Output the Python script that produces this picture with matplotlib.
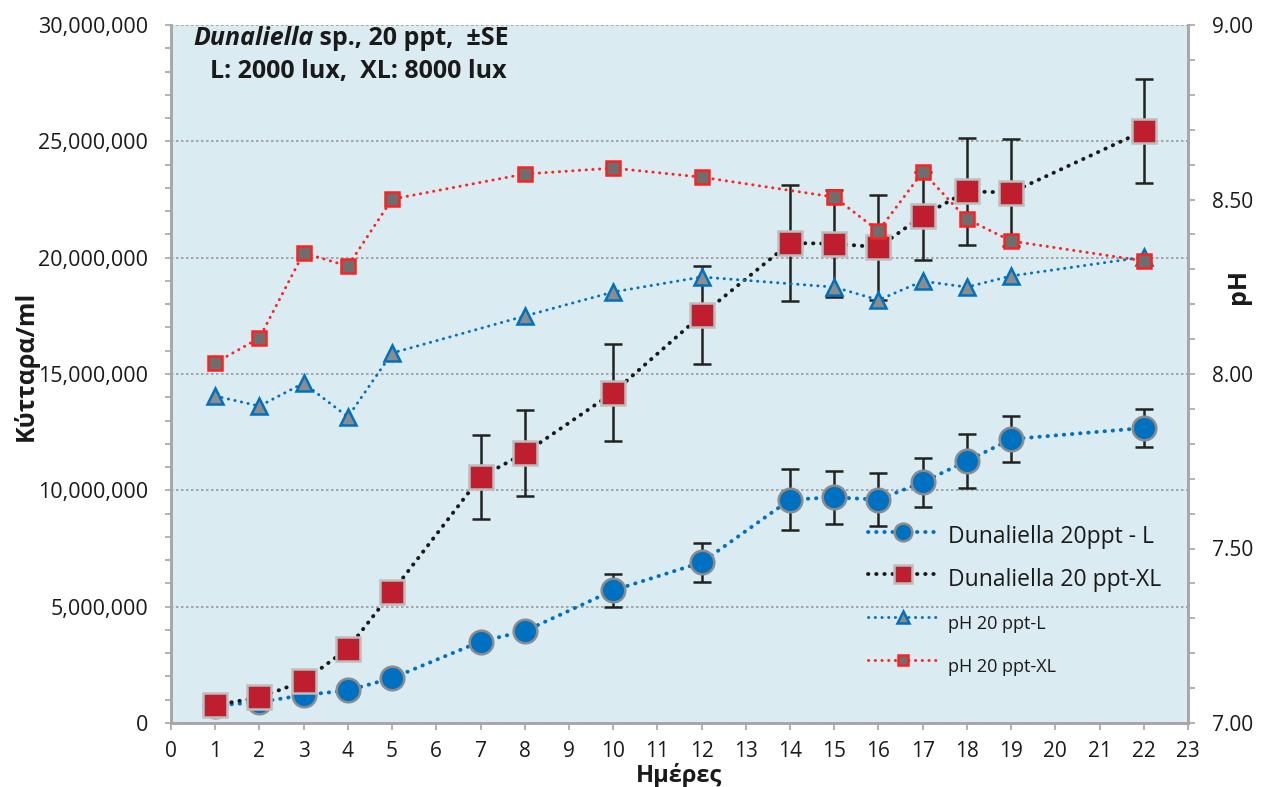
import matplotlib
matplotlib.use("Agg")
import matplotlib.pyplot as plt

plt.rcParams['font.family'] = ['Open Sans', 'DejaVu Sans']

# ---- data ----
days_cells = [1, 2, 3, 4, 5, 7, 8, 10, 12, 14, 15, 16, 17, 18, 19, 22]
cells_L = [0.75e6, 0.9e6, 1.2e6, 1.4e6, 1.93e6, 3.5e6, 3.95e6, 5.7e6, 6.9e6,
           9.6e6, 9.7e6, 9.6e6, 10.35e6, 11.26e6, 12.2e6, 12.68e6]
err_L = [0, 0, 0, 0, 0, 0, 0, 0.7e6, 0.85e6,
         1.3e6, 1.15e6, 1.15e6, 1.05e6, 1.15e6, 1.0e6, 0.8e6]
cells_XL = [0.77e6, 1.1e6, 1.8e6, 3.2e6, 5.63e6, 10.57e6, 11.6e6, 14.2e6, 17.54e6,
            20.63e6, 20.6e6, 20.45e6, 21.8e6, 22.85e6, 22.8e6, 25.45e6]
err_XL = [0, 0, 0, 0, 0.35e6, 1.8e6, 1.85e6, 2.1e6, 2.1e6,
          2.5e6, 2.3e6, 2.25e6, 1.9e6, 2.3e6, 2.3e6, 2.25e6]

days_ph = [1, 2, 3, 4, 5, 8, 10, 12, 15, 16, 17, 18, 19, 22]
ph_L = [7.937, 7.908, 7.974, 7.877, 8.06, 8.166, 8.235, 8.278,
        8.249, 8.212, 8.266, 8.249, 8.281, 8.335]
ph_XL = [8.032, 8.103, 8.347, 8.309, 8.501, 8.573, 8.590, 8.564,
         8.507, 8.410, 8.579, 8.444, 8.381, 8.324]

labels = ["Dunaliella 20ppt - L", "Dunaliella 20 ppt-XL", "pH 20 ppt-L", "pH 20 ppt-XL"]
x_ticks = list(range(0, 24))
y_ticks = [0, 5e6, 10e6, 15e6, 20e6, 25e6, 30e6]
ph_ticks = [7.0, 7.5, 8.0, 8.5, 9.0]

# ---- figure ----
fig = plt.figure(figsize=(12.71, 7.87), dpi=100)
ax = fig.add_axes([171/1271, 1-723/787, (1188-171)/1271, (723-25)/787])
ax.set_facecolor('#DAEBF1')
ax2 = ax.twinx()

blue = '#0070C0'
red = '#BE1E2D'
grey_edge = '#8C8C8C'
txt = '#1a1a1a'

# error bars (behind markers)
ax.errorbar(days_cells, cells_L, yerr=err_L, fmt='none', ecolor='#222222',
            elinewidth=1.8, capsize=6.5, capthick=1.8, zorder=2)
ax.errorbar(days_cells, cells_XL, yerr=err_XL, fmt='none', ecolor='#222222',
            elinewidth=1.8, capsize=6.5, capthick=1.8, zorder=2)

lL, = ax.plot(days_cells, cells_L, linestyle=(0, (0.1, 2.0)), color=blue, lw=2.8,
              dash_capstyle='round', marker='o', ms=17, mfc=blue, mec=grey_edge,
              mew=1.8, zorder=3, label=labels[0])
lXL, = ax.plot(days_cells, cells_XL, linestyle=(0, (0.1, 2.0)), color='#1a1a1a', lw=2.8,
               dash_capstyle='round', marker='s', ms=17.5, mfc=red, mec='#BDBDBD',
               mew=1.8, zorder=4, label=labels[1])

pL, = ax2.plot(days_ph, ph_L, linestyle=(0, (0.1, 2.2)), color=blue, lw=2.1,
               dash_capstyle='round', marker='^', ms=11, mfc='#8C8C8C', mec=blue,
               mew=1.8, zorder=5, label=labels[2])
pXL, = ax2.plot(days_ph, ph_XL, linestyle=(0, (0.1, 2.2)), color='#FF2020', lw=2.1,
                dash_capstyle='round', marker='s', ms=10, mfc='#6E6E6E', mec='#FF2020',
                mew=1.8, zorder=5, label=labels[3])

# axes limits and ticks
ax.set_xlim(0, 23)
ax.set_ylim(0, 30e6)
ax2.set_ylim(7.0, 9.0)
ax.set_xticks(x_ticks)
ax.set_xticklabels([str(v) for v in x_ticks],
                   family=['Liberation Sans Narrow', 'Open Sans'], fontsize=15)
ax.set_yticks(y_ticks)
ax.set_yticks([i * 1e6 for i in range(31)], minor=True)
ax.set_yticklabels([f"{int(v):,}" for v in y_ticks])
ax2.set_yticks(ph_ticks)
ax2.set_yticks([7.0 + 0.1 * i for i in range(21)], minor=True)
ax2.set_yticklabels([f"{v:.2f}" for v in ph_ticks])

ax.grid(axis='y', which='major', linestyle=(0, (1.5, 1.5)), color='#9A9A9A', lw=1.2)
ax.set_axisbelow(True)

spine_c = '#A6A6A6'
for a in (ax, ax2):
    a.spines['top'].set_visible(False)
    for s in ('left', 'right', 'bottom'):
        a.spines[s].set_color(spine_c)
        a.spines[s].set_linewidth(1.8)

ax.tick_params(axis='x', direction='out', length=5, width=1.2, color=spine_c,
               pad=8, labelcolor=txt)
ax.tick_params(axis='y', which='both', direction='out', length=4.5, width=1.2,
               color=spine_c, labelsize=15.5, pad=12, labelcolor=txt)
ax2.tick_params(axis='y', which='major', direction='out', length=5, width=1.2,
                color=spine_c, labelsize=15, pad=12, labelcolor=txt)
ax2.tick_params(axis='y', which='minor', direction='out', length=5, width=1.2,
                color=spine_c)

ax.set_xlabel("Ημέρες", fontsize=17, fontweight='bold', color=txt)
ax.xaxis.set_label_coords(0.5, -0.057)
ax.set_ylabel("Κύτταρα/ml", fontsize=18, fontweight='bold', color=txt)
ax.yaxis.set_label_coords(-0.130, 0.511)
ax2.set_ylabel("pH", fontsize=18, fontweight='bold', color=txt)
ax2.yaxis.set_label_coords(1.037, 0.625)

# title inside plot
t1 = ax.text(0.0216, 0.981, "Dunaliella", transform=ax.transAxes, fontsize=18,
             fontweight='bold', style='italic', va='center', ha='left', color=txt)
ax.annotate(" sp., 20 ppt,  ±SE", xy=(1, 0), xycoords=t1, fontsize=18,
            fontweight='bold', va='bottom', ha='left', color=txt)
ax.text(0.184, 0.933, "L: 2000 lux,  XL: 8000 lux", transform=ax.transAxes,
        fontsize=18, fontweight='bold', va='center', ha='center', color=txt)

# legend
leg = ax2.legend(handles=[lL, lXL, pL, pXL], loc='upper left',
                 bbox_to_anchor=(0.6853, 0.291), frameon=False, fontsize=16.5,
                 handlelength=3.05, handletextpad=0.45, labelspacing=0.45,
                 handleheight=1.8, borderpad=0, borderaxespad=0,
                 markerscale=0.75, numpoints=1)
for t in leg.get_texts():
    t.set_color(txt)
for t in leg.get_texts()[2:]:
    t.set_fontsize(13)

fig.savefig("out.png", dpi=100)
